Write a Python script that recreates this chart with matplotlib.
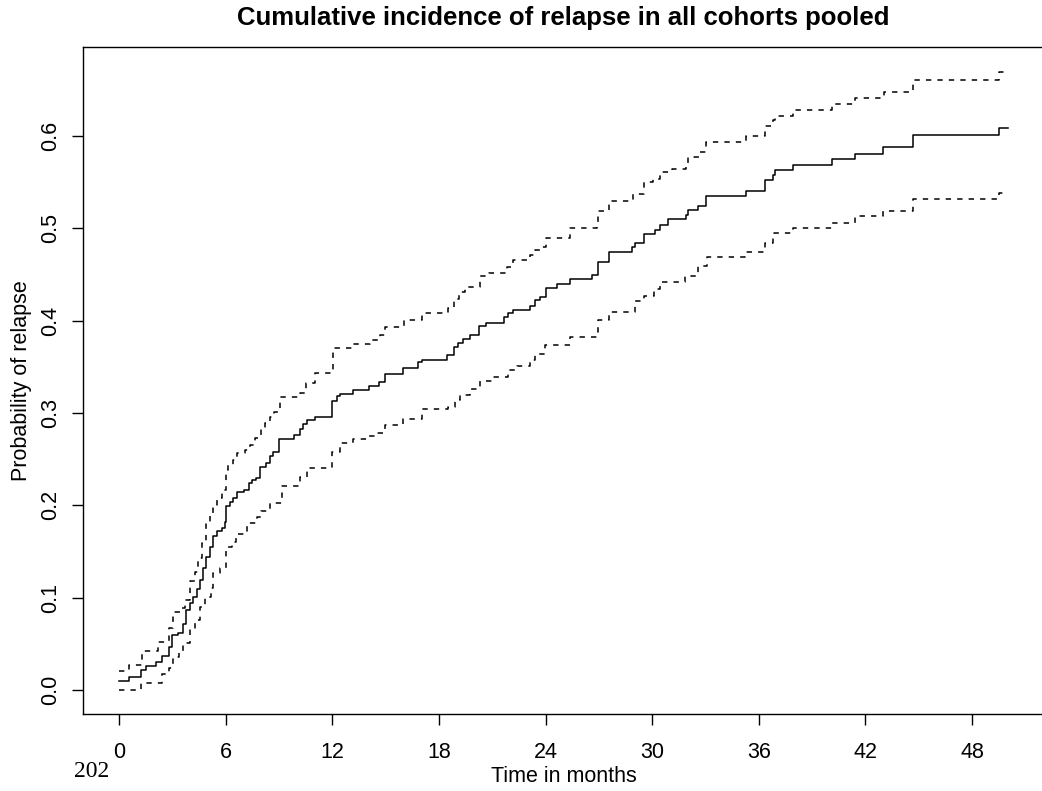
import matplotlib
matplotlib.use("Agg")
import matplotlib.pyplot as plt

plt.rcParams['font.family'] = ['Liberation Sans', 'DejaVu Sans']

# ---- data (months, cumulative incidence) ----
time_est = [0, 0.58, 1.24, 1.52, 2.08, 2.40, 2.83, 2.96, 3.34, 3.62, 3.77, 4.00, 4.18, 4.37,
            4.56, 4.71, 4.90, 5.12, 5.27, 5.50, 5.78, 5.96, 6.02, 6.25, 6.43, 6.62, 7.03,
            7.33, 7.47, 7.71, 7.93, 8.25, 8.50, 8.68, 9.00, 9.83, 10.19, 10.37, 10.60, 11.03,
            12.01, 12.25, 12.45, 13.19, 14.09, 14.65, 14.97, 16.00, 16.80, 17.03, 18.48,
            18.85, 19.10, 19.36, 19.75, 20.28, 20.67, 21.65, 21.91, 22.19, 23.11, 23.41,
            23.71, 24.00, 24.67, 25.38, 26.60, 26.95, 27.59, 28.89, 29.06, 29.55, 30.16,
            30.45, 30.91, 31.91, 32.04, 32.60, 33.05, 35.27, 36.33, 36.82, 36.94, 37.91,
            40.10, 41.42, 43.01, 44.70, 49.54, 50.05]
cif_est = [0.010, 0.014, 0.022, 0.026, 0.030, 0.037, 0.047, 0.060, 0.062, 0.072, 0.087, 0.094,
           0.101, 0.109, 0.119, 0.132, 0.144, 0.155, 0.167, 0.172, 0.175, 0.182, 0.199, 0.204,
           0.208, 0.214, 0.217, 0.224, 0.228, 0.230, 0.242, 0.246, 0.253, 0.258, 0.272, 0.276,
           0.283, 0.288, 0.293, 0.296, 0.313, 0.319, 0.321, 0.325, 0.329, 0.334, 0.342, 0.349,
           0.355, 0.358, 0.363, 0.372, 0.376, 0.380, 0.385, 0.394, 0.398, 0.404, 0.408, 0.412,
           0.416, 0.422, 0.426, 0.435, 0.440, 0.445, 0.450, 0.464, 0.474, 0.480, 0.484, 0.494,
           0.498, 0.504, 0.510, 0.515, 0.520, 0.524, 0.535, 0.541, 0.552, 0.558, 0.563, 0.569,
           0.575, 0.581, 0.588, 0.601, 0.609, 0.609]

time_upper = [0, 0.58, 1.27, 2.21, 2.83, 3.06, 3.43, 3.71, 4.00, 4.28, 4.46, 4.65, 4.90, 5.12,
              5.31, 5.50, 5.78, 6.02, 6.15, 6.43, 6.62, 7.09, 7.37, 7.65, 7.97, 8.22, 8.50,
              8.70, 9.04, 10.19, 10.50, 11.03, 12.02, 13.19, 14.10, 14.69, 14.97, 16.05, 17.03,
              18.50, 18.85, 19.12, 19.45, 20.30, 20.80, 21.82, 22.18, 23.13, 23.41, 23.72,
              24.03, 25.36, 26.90, 26.97, 27.59, 28.92, 29.54, 30.07, 30.43, 31.10, 31.91,
              32.04, 32.70, 33.05, 35.27, 36.33, 36.78, 36.90, 37.91, 40.10, 41.42, 43.05,
              44.70, 49.54, 50.05]
cif_upper = [0.021, 0.027, 0.042, 0.052, 0.067, 0.085, 0.089, 0.098, 0.118, 0.128, 0.143,
             0.159, 0.181, 0.191, 0.200, 0.208, 0.217, 0.238, 0.244, 0.249, 0.257, 0.260,
             0.265, 0.273, 0.283, 0.289, 0.296, 0.301, 0.317, 0.322, 0.333, 0.343, 0.371,
             0.375, 0.379, 0.385, 0.393, 0.401, 0.408, 0.414, 0.424, 0.431, 0.437, 0.448,
             0.452, 0.458, 0.466, 0.471, 0.477, 0.480, 0.490, 0.500, 0.506, 0.519, 0.530,
             0.537, 0.550, 0.554, 0.561, 0.564, 0.569, 0.577, 0.583, 0.594, 0.600, 0.611,
             0.618, 0.622, 0.628, 0.635, 0.641, 0.648, 0.661, 0.669, 0.669]

time_lower = [0, 1.24, 2.40, 2.83, 3.06, 3.40, 3.62, 4.00, 4.28, 4.56, 4.84, 5.16, 5.31, 5.68,
              6.04, 6.34, 6.60, 7.19, 7.75, 7.97, 8.50, 9.15, 10.19, 10.56, 12.00, 12.44,
              13.19, 14.09, 14.50, 14.97, 16.00, 17.03, 18.50, 18.91, 19.19, 19.77, 20.30,
              21.00, 21.91, 22.40, 23.13, 23.41, 23.97, 25.38, 26.90, 26.97, 27.59, 29.04,
              29.52, 30.10, 30.45, 31.85, 32.60, 33.07, 35.23, 36.35, 36.78, 36.88, 37.91,
              40.10, 41.42, 43.01, 44.70, 49.54, 50.05]
cif_lower = [0.000, 0.008, 0.017, 0.024, 0.036, 0.041, 0.051, 0.065, 0.076, 0.090, 0.101,
             0.110, 0.127, 0.132, 0.155, 0.160, 0.169, 0.181, 0.187, 0.194, 0.203, 0.221,
             0.231, 0.240, 0.258, 0.268, 0.272, 0.275, 0.278, 0.287, 0.294, 0.304, 0.307,
             0.314, 0.320, 0.326, 0.335, 0.339, 0.347, 0.351, 0.358, 0.364, 0.374, 0.382,
             0.388, 0.401, 0.410, 0.421, 0.427, 0.434, 0.442, 0.448, 0.459, 0.469, 0.474,
             0.484, 0.489, 0.495, 0.501, 0.506, 0.513, 0.519, 0.532, 0.538, 0.538]

x_ticks = [0, 6, 12, 18, 24, 30, 36, 42, 48]
y_ticks = [0.0, 0.1, 0.2, 0.3, 0.4, 0.5, 0.6]

title = "Cumulative incidence of relapse in all cohorts pooled"
x_label = "Time in months"
y_label = "Probability of relapse"
corner_note = "202"

# ---- figure ----
W, H = 1042, 791
fig = plt.figure(figsize=(W / 100, H / 100), dpi=100)
left, right, top, bottom = 83, 1044, 47, 714
ax = fig.add_axes([left / W, 1 - bottom / H, (right - left) / W, (bottom - top) / H])

lw = 1.1
ax.step(time_est, cif_est, where='post', color='black', lw=lw)
ax.step(time_upper, cif_upper, where='post', color='black', lw=lw, linestyle=(0, (3.5, 4.0)))
ax.step(time_lower, cif_lower, where='post', color='black', lw=lw, linestyle=(0, (3.5, 4.0)))

ax.set_xlim(-2.03, 52.05)
ax.set_ylim(-0.026, 0.6966)

ax.set_xticks(x_ticks)
ax.set_xticklabels([str(v) for v in x_ticks])
ax.set_yticks(y_ticks)
ax.set_yticklabels([f"{v:.1f}" for v in y_ticks])

for s in ax.spines.values():
    s.set_linewidth(1.0)
    s.set_color('black')
ax.spines['right'].set_visible(False)

ax.tick_params(axis='both', direction='out', length=8, width=1.0, labelsize=15.5, colors='black')
ax.tick_params(axis='x', pad=12)
ax.tick_params(axis='y', pad=7.5, labelrotation=90)
for lab in ax.get_yticklabels():
    lab.set_va('center')

ax.set_title(title, fontsize=18.5, fontweight='bold', y=1.0435, va='center', pad=0)
ax.set_xlabel(x_label, fontsize=15.5)
ax.xaxis.set_label_coords(0.5, -0.093)
ax.xaxis.label.set_va('center')
ax.set_ylabel(y_label, fontsize=15.5)
ax.yaxis.set_label_coords(-0.0645, 0.5)
ax.yaxis.label.set_va('center')

fig.text(74 / W, 1 - 777 / H, corner_note, family='Liberation Serif', fontsize=17,
         ha='left', va='baseline')

fig.savefig("out.png", dpi=100)
